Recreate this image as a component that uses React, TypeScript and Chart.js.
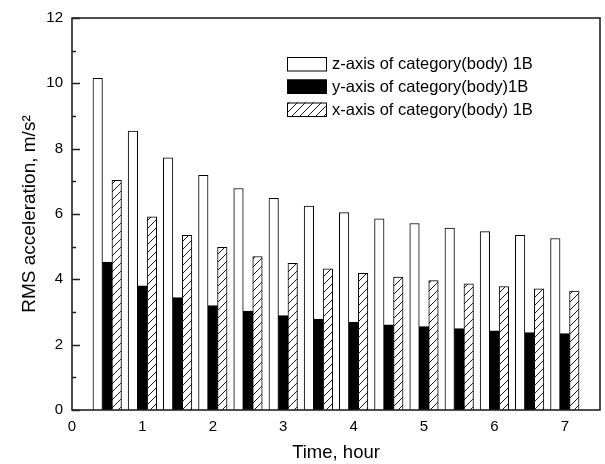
import React, { useEffect, useRef } from 'react';
import { Chart, registerables } from 'chart.js';

Chart.register(...registerables);

// ---- data ----
const times = [0.5, 1, 1.5, 2, 2.5, 3, 3.5, 4, 4.5, 5, 5.5, 6, 6.5, 7];
const zAxisValues = [10.15, 8.54, 7.72, 7.18, 6.78, 6.48, 6.24, 6.04, 5.85, 5.71, 5.57, 5.46, 5.35, 5.25];
const yAxisValues = [4.53, 3.8, 3.44, 3.2, 3.03, 2.89, 2.78, 2.68, 2.61, 2.55, 2.49, 2.42, 2.37, 2.34];
const xAxisValues = [7.03, 5.91, 5.35, 4.98, 4.7, 4.49, 4.32, 4.18, 4.07, 3.96, 3.86, 3.78, 3.71, 3.64];
const seriesLabels = [
  'z-axis of category(body) 1B',
  'y-axis of category(body)1B',
  'x-axis of category(body) 1B',
];
const xTickValues = [0, 1, 2, 3, 4, 5, 6, 7];
const yMajorTicks = [0, 2, 4, 6, 8, 10, 12];
const yMinorTicks = [1, 3, 5, 7, 9, 11];
const xTitle = 'Time, hour';
const yTitle = 'RMS acceleration, m/s\u00B2';

const FONT = 'Arial, "Liberation Sans", Helvetica, sans-serif';

function makeHatch(): CanvasPattern | string {
  const c = document.createElement('canvas');
  const s = 8;
  c.width = s;
  c.height = s;
  const g = c.getContext('2d');
  if (!g) return '#fff';
  g.fillStyle = '#fff';
  g.fillRect(0, 0, s, s);
  g.strokeStyle = '#000';
  g.lineWidth = 0.9;
  g.beginPath();
  g.moveTo(-1, s + 1);
  g.lineTo(s + 1, -1);
  g.moveTo(-1, 1);
  g.lineTo(1, -1);
  g.moveTo(s - 1, s + 1);
  g.lineTo(s + 1, s - 1);
  g.stroke();
  const p = g.createPattern(c, 'repeat');
  return p || '#fff';
}

export default function App() {
  const ref = useRef<HTMLCanvasElement | null>(null);

  useEffect(() => {
    if (!ref.current) return;
    const hatch = makeHatch();
    const fills: any[] = ['#ffffff', '#000000', hatch];

    const framePlugin = {
      id: 'frameAndLegend',
      afterDatasetsDraw(chart: any) {
        const { ctx, chartArea } = chart;
        const ys = chart.scales.y;
        ctx.save();
        // frame
        ctx.strokeStyle = '#222';
        ctx.lineWidth = 1.6;
        ctx.strokeRect(chartArea.left, chartArea.top, chartArea.right - chartArea.left, chartArea.bottom - chartArea.top);
        // inward y ticks
        ctx.lineWidth = 1.5;
        ctx.beginPath();
        yMajorTicks.forEach((v) => {
          const py = Math.round(ys.getPixelForValue(v)) + 0.5;
          ctx.moveTo(chartArea.left, py);
          ctx.lineTo(chartArea.left + 8, py);
        });
        yMinorTicks.forEach((v) => {
          const py = Math.round(ys.getPixelForValue(v)) + 0.5;
          ctx.moveTo(chartArea.left, py);
          ctx.lineTo(chartArea.left + 4, py);
        });
        ctx.stroke();

        // legend
        const bx = 287;
        const bw = 40;
        const bh = 14.5;
        const rows = [57, 79.5, 102.5];
        ctx.font = '16.5px ' + FONT;
        ctx.textBaseline = 'middle';
        ctx.textAlign = 'left';
        seriesLabels.forEach((lab, i) => {
          const top = rows[i];
          ctx.fillStyle = fills[i];
          ctx.fillRect(bx, top, bw, bh);
          ctx.strokeStyle = '#000';
          ctx.lineWidth = 1;
          ctx.strokeRect(bx + 0.5, top + 0.5, bw - 1, bh - 1);
          ctx.fillStyle = '#000';
          ctx.fillText(lab, bx + bw + 5, top + bh / 2 + 0.5);
        });
        ctx.restore();
      },
    };

    const chart = new Chart(ref.current, {
      type: 'bar',
      data: {
        datasets: [zAxisValues, yAxisValues, xAxisValues].map((vals, i) => ({
          label: seriesLabels[i],
          data: times.map((t, j) => ({ x: t, y: vals[j] })),
          backgroundColor: fills[i],
          borderColor: '#000',
          borderWidth: 1,
          barThickness: 9.5,
        })),
      },
      options: {
        animation: false,
        responsive: true,
        maintainAspectRatio: false,
        layout: { padding: { left: 0, right: 5, top: 16, bottom: 0 } },
        plugins: {
          legend: { display: false },
          tooltip: { enabled: false },
        },
        scales: {
          x: {
            type: 'linear',
            min: 0,
            max: 7.5,
            offset: false,
            grid: { display: false, drawTicks: false },
            border: { display: false },
            afterBuildTicks: (s: any) => {
              s.ticks = xTickValues.map((v) => ({ value: v }));
            },
            afterFit: (s: any) => {
              s.height = 54;
            },
            ticks: {
              padding: 8,
              maxRotation: 0,
              autoSkip: false,
              color: '#000',
              font: { family: FONT, size: 15 },
            },
            title: {
              display: true,
              text: xTitle,
              color: '#000',
              font: { family: FONT, size: 18.5 },
              padding: { top: 1, bottom: 0 },
            },
          },
          y: {
            type: 'linear',
            min: 0,
            max: 12,
            grid: { display: false, drawTicks: false },
            border: { display: false },
            afterBuildTicks: (s: any) => {
              s.ticks = yMajorTicks.map((v) => ({ value: v }));
            },
            afterFit: (s: any) => {
              s.width = 72;
            },
            ticks: {
              padding: 9,
              color: '#000',
              font: { family: FONT, size: 15 },
            },
            title: {
              display: true,
              text: yTitle,
              color: '#000',
              font: { family: FONT, size: 19 },
              padding: { top: 18, bottom: 0 },
            },
          },
        },
      },
      plugins: [framePlugin],
    } as any);

    return () => chart.destroy();
  }, []);

  return (
    <div style={{ position: 'absolute', left: 0, top: 0, width: 605, height: 464, background: '#fff' }}>
      <canvas ref={ref} />
    </div>
  );
}
